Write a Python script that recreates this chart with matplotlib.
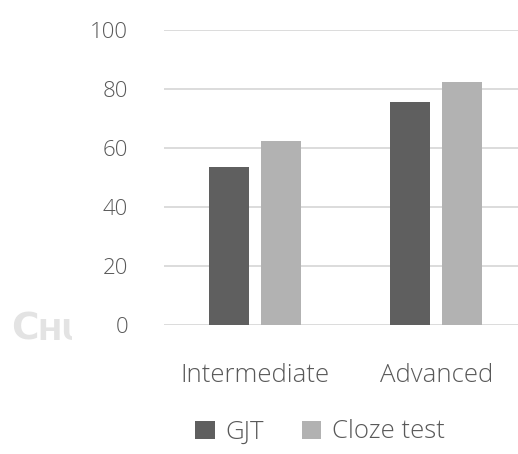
import matplotlib.pyplot as plt
from matplotlib.patches import Rectangle
import numpy as np

CATEGORIES = ["Intermediate", "Advanced"]
GJT = [53.6, 75.6]
CLOZE = [62.3, 82.4]
Y_TICKS = [0, 20, 40, 60, 80, 100]

plt.rcParams['font.family'] = ['Open Sans', 'DejaVu Sans']
plt.rcParams['font.weight'] = 'light'

fig = plt.figure(figsize=(5.18, 4.54), dpi=100)
# plot area runs past the right edge like the (cropped) original
ax = fig.add_axes([164 / 518, 1 - 325 / 454, 363 / 518, 295 / 454])

x = np.arange(len(CATEGORIES))
w = 0.22
off = 0.033 + w / 2
ax.bar(x - off, GJT, w, color="#5f5f5f", label="GJT", zorder=3)
ax.bar(x + off, CLOZE, w, color="#b2b2b2", label="Cloze test", zorder=3)

ax.set_xlim(-0.5, 1.5)
ax.set_ylim(0, 100)
ax.set_yticks(Y_TICKS)
ax.set_xticks(x)
ax.set_xticklabels(CATEGORIES)
ax.grid(axis="y", color="#d9d9d9", linewidth=1.3, zorder=0)
for s in ax.spines.values():
    s.set_visible(False)
ax.tick_params(length=0, labelcolor="#595959")
ax.tick_params(axis="y", labelsize=16, pad=26)
ax.tick_params(axis="x", labelsize=18.5, pad=27)

ax.legend(loc="center", bbox_to_anchor=(320 / 518, 1 - 432 / 454),
          bbox_transform=fig.transFigure, ncol=2, frameon=False,
          fontsize=18.5, labelcolor="#595959", handlelength=0.75,
          handleheight=0.7, handletextpad=0.4, columnspacing=1.5)

# faint watermark from the scanned page, cut off at the left like the original
clip = Rectangle((0, 0), 72 / 518, 1, transform=fig.transFigure)
for s, xp, size in [("C", 11, 27), ("HU", 37, 21)]:
    t = fig.text(xp / 518, 1 - 340 / 454, s, fontsize=size, fontweight="bold",
                 color="#e3e3e3", ha="left", va="baseline",
                 family="DejaVu Sans", zorder=0)
    t.set_clip_path(clip)

fig.savefig("out.png", dpi=100)
